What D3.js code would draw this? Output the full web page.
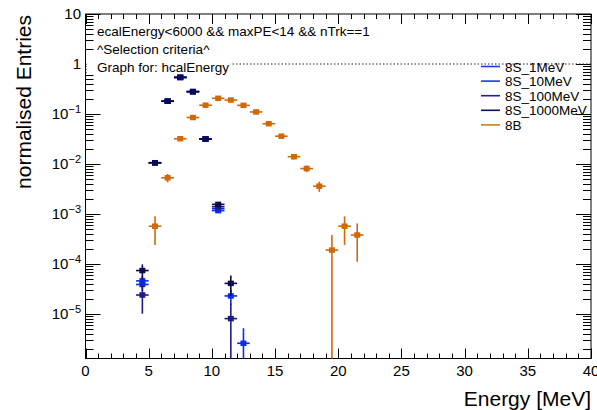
<!DOCTYPE html>
<html><head><meta charset="utf-8">
<script src="https://cdn.jsdelivr.net/npm/d3@7"></script>
<style>
html,body{margin:0;padding:0;background:#fff;}
svg{display:block;font-family:"Liberation Sans",Arial,Helvetica,sans-serif;}
</style>
</head><body>
<svg id="c" width="597" height="410"></svg>
<script>
// ---------------- data ----------------
const xTickValues = [0, 5, 10, 15, 20, 25, 30, 35, 40];
const yTickExponents = [1, 0, -1, -2, -3, -4, -5];
const seriesNames = ["8S_1MeV", "8S_10MeV", "8S_100MeV", "8S_1000MeV", "8B"];

const x8S_1MeV = [4.5, 5.5, 6.5, 7.5, 8.5, 9.5, 10.5, 11.5, 12.5];
const y8S_1MeV = [4.6e-5, 0.0106, 0.18, 0.54, 0.28, 0.0316, 1.17e-3, 2.3e-5, 2.6e-6];

const x8S_10MeV = [4.5, 5.5, 6.5, 7.5, 8.5, 9.5, 10.5];
const y8S_10MeV = [3.9e-5, 0.0106, 0.18, 0.54, 0.28, 0.0316, 1.28e-3];

const x8S_100MeV = [4.5, 5.5, 6.5, 7.5, 8.5, 9.5, 10.5, 11.5];
const y8S_100MeV = [2.4e-5, 0.0106, 0.18, 0.54, 0.28, 0.0316, 1.40e-3, 8.1e-6];

const x8S_1000MeV = [4.5, 5.5, 6.5, 7.5, 8.5, 9.5, 10.5, 11.5];
const y8S_1000MeV = [7.4e-5, 0.0106, 0.18, 0.54, 0.28, 0.0316, 1.56e-3, 4.1e-5];

const x8B = [5.5, 6.5, 7.5, 8.5, 9.5, 10.5, 11.5, 12.5, 13.5, 14.5, 15.5, 16.5, 17.5, 18.5, 19.5, 20.5, 21.5];
const y8B = [5.7e-4, 5.3e-3, 0.032, 0.085, 0.15, 0.206, 0.19, 0.149, 0.11, 0.064, 0.036, 0.014, 0.0081, 0.0036, 1.9e-4, 5.7e-4, 3.8e-4];

// weight of one entry after normalisation (statistical error = sqrt(y * w))
const entryWeight = [2.6e-6, 2.6e-6, 8e-6, 8e-6, 1.9e-4];
const binWidth = 1;

const infoLines = ["ecalEnergy<6000 && maxPE<14 && nTrk==1", "^Selection criteria^", "Graph for: hcalEnergy"];
const refLineY = 1;
const xTitle = "Energy [MeV]";
const yTitle = "normalised Entries";

// ---------------- styles ----------------
const colors = ["#0a2cf4", "#1228cc", "#1c1c88", "#0a0a50", "#d0690c"];
const legendColors = ["#1a3cf0", "#1a3ae0", "#22228a", "#101050", "#c8801e"];

const W = 597, H = 410;
const L = 85.5, R = 591, T = 14, B = 358.5;

const svg = d3.select("#c");
const x = d3.scaleLinear().domain([0, 40]).range([L, R]);
const y = d3.scaleLog().domain([1.29e-6, 10]).range([B, T]);

const seriesX = [x8S_1MeV, x8S_10MeV, x8S_100MeV, x8S_1000MeV, x8B];
const seriesY = [y8S_1MeV, y8S_10MeV, y8S_100MeV, y8S_1000MeV, y8B];

// frame
svg.append("rect").attr("x", L).attr("y", T).attr("width", R - L).attr("height", B - T)
  .attr("fill", "none").attr("stroke", "#000").attr("stroke-width", 1);

// x ticks
const xMinor = d3.range(0, 41, 1);
const tickG = svg.append("g").attr("stroke", "#000").attr("stroke-width", 1);
xMinor.forEach(v => {
  const major = xTickValues.includes(v);
  const len = major ? 10 : 5;
  const px = Math.round(x(v)) + 0.5;
  tickG.append("line").attr("x1", px).attr("x2", px).attr("y1", B).attr("y2", B - len);
  tickG.append("line").attr("x1", px).attr("x2", px).attr("y1", T).attr("y2", T + len);
});
svg.append("g").selectAll("text").data(xTickValues).join("text")
  .attr("x", d => x(d)).attr("y", 376).attr("text-anchor", "middle")
  .attr("font-size", 15).text(d => d);

// y ticks (log)
const [yLo, yHi] = y.domain();
for (let e = -7; e <= 1; e++) {
  for (let m = 1; m <= 9; m++) {
    const v = m * Math.pow(10, e);
    if (v < yLo * 0.999 || v > yHi * 1.001) continue;
    const len = m === 1 ? 15 : 8;
    const py = Math.round(y(v)) + 0.5;
    tickG.append("line").attr("x1", L).attr("x2", L + len).attr("y1", py).attr("y2", py);
    tickG.append("line").attr("x1", R).attr("x2", R - len).attr("y1", py).attr("y2", py);
  }
}
const yl = svg.append("g").selectAll("text").data(yTickExponents).join("text")
  .attr("x", 81).attr("y", d => y(Math.pow(10, d)) + 5).attr("text-anchor", "end")
  .attr("font-size", 15);
yl.each(function(d) {
  const t = d3.select(this);
  if (d === 0) t.text("1");
  else if (d === 1) t.text("10");
  else {
    t.append("tspan").text("10");
    t.append("tspan").attr("dy", -6).attr("font-size", 11).text("\u2212" + (-d));
  }
});

// axis titles
svg.append("text").attr("x", R).attr("y", 406).attr("text-anchor", "end")
  .attr("font-size", 21).text(xTitle);
svg.append("text").attr("transform", `translate(31,${T + 1}) rotate(-90)`).attr("text-anchor", "end")
  .attr("font-size", 21).text(yTitle);

// reference dotted line at y = 1
svg.append("line").attr("x1", L).attr("x2", R).attr("y1", y(refLineY)).attr("y2", y(refLineY))
  .attr("stroke", "#222").attr("stroke-width", 1).attr("stroke-dasharray", "1.5,2");

// info text (white box behind)
const infoG = svg.append("g");
const infoBaselines = [35.5, 53.5, 71.5];
infoLines.forEach((s, i) => {
  const t = infoG.append("text").attr("x", 97).attr("y", infoBaselines[i]).attr("font-size", 13.5).text(s);
  if (i === infoLines.length - 1) {
    const bb = t.node().getBBox();
    infoG.insert("rect", "text").attr("x", L + 1).attr("y", bb.y - 1).attr("width", bb.x + bb.width - L)
      .attr("height", bb.height + 1).attr("fill", "#fff");
  }
});

// data: error bars + square markers
const yBottom = B;
seriesNames.forEach((name, si) => {
  const g = svg.append("g");
  const xs = seriesX[si], ys = seriesY[si], w = entryWeight[si], c = colors[si];
  xs.forEach((xv, i) => {
    const v = ys[i];
    const err = Math.sqrt(v * w);
    const lo = v - err, hi = v + err;
    const pyLo = lo > yLo ? y(lo) : yBottom;
    const pyHi = Math.max(T, y(hi));
    g.append("line").attr("x1", x(xv)).attr("x2", x(xv)).attr("y1", pyLo).attr("y2", pyHi)
      .attr("stroke", c).attr("stroke-width", 1.6);
    g.append("line").attr("x1", x(xv - binWidth / 2)).attr("x2", x(xv + binWidth / 2))
      .attr("y1", y(v)).attr("y2", y(v)).attr("stroke", c).attr("stroke-width", 1.6);
    g.append("rect").attr("x", x(xv) - 3).attr("y", y(v) - 2.75).attr("width", 6).attr("height", 5.5)
      .attr("fill", c);
  });
});

// legend
const lg = svg.append("g");
seriesNames.forEach((name, i) => {
  const cy = 66.5 + i * 14.6;
  lg.append("line").attr("x1", 481).attr("x2", 500).attr("y1", cy).attr("y2", cy)
    .attr("stroke", legendColors[i]).attr("stroke-width", 1.6);
  lg.append("text").attr("x", 505).attr("y", cy + 5).attr("font-size", 13.5).text(name);
});
</script>
</body></html>
